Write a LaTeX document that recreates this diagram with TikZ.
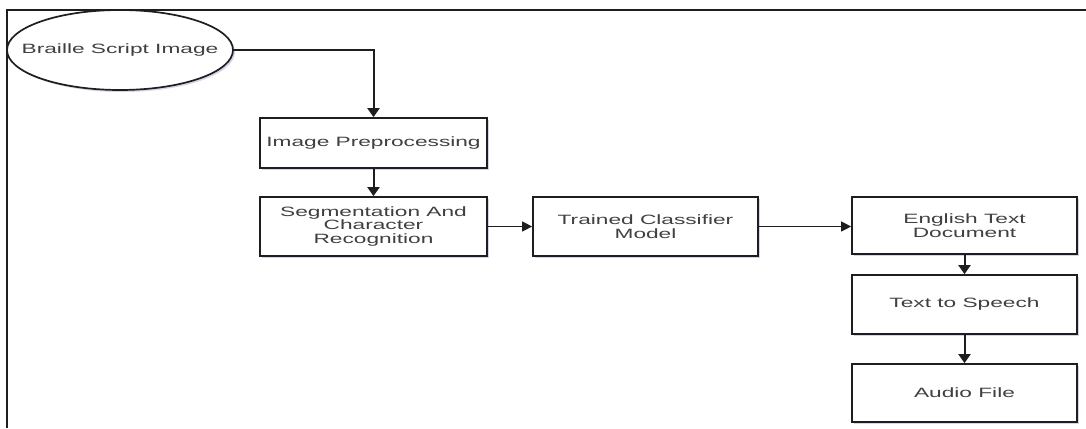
\documentclass[tikz,border=0pt]{standalone}
\usepackage{fontspec}
\setmainfont{Liberation Sans}
\newfontfamily\widefont[FakeStretch=1.68]{Liberation Sans}
\usetikzlibrary{shapes.geometric,arrows.meta,shadows}
\definecolor{txt}{HTML}{404040}
\definecolor{ln}{HTML}{1E1E1E}
\tikzset{
  blk/.style={draw=ln, line width=1.7pt, fill=white, rectangle, inner sep=0pt,
    minimum width=226pt, align=center, text=txt,
    font=\widefont\fontsize{13.5}{13.5}\selectfont,
    drop shadow={shadow xshift=2pt, shadow yshift=-2pt, opacity=0.25, fill=gray!70!blue}},
  ell/.style={blk, ellipse, minimum width=226pt, minimum height=80pt},
  vcon/.style={draw=ln, line width=2pt, -{Triangle[width=12pt,length=9pt]}},
  hcon/.style={draw=ln, line width=1.2pt, -{Triangle[width=10pt,length=10pt]}},
}
\begin{document}
\begin{tikzpicture}[x=1pt,y=-1pt]
\useasboundingbox (0,0) rectangle (1086,428);
\draw[ln, line width=2pt] (7,428) -- (7,10) -- (1086,10);
\node[ell] (img) at (120,50) {\makebox[0pt]{Braille Script Image}};
\node[blk, minimum width=227pt, minimum height=50pt] (pre) at (373.5,143) {Image Preprocessing};
\node[blk, minimum width=227pt, minimum height=59pt] (seg) at (373.5,226.5) {Segmentation And\\Character\\Recognition};
\node[blk, minimum width=225pt, minimum height=59pt] (cls) at (645.5,226.5) {Trained Classifier\\Model};
\node[blk, minimum width=225pt, minimum height=57pt] (eng) at (964.5,225.5) {English Text\\Document};
\node[blk, minimum width=225pt, minimum height=59pt] (tts) at (964.5,304.5) {Text to Speech};
\node[blk, minimum width=225pt, minimum height=58pt] (aud) at (964.5,393) {Audio File};
\draw[vcon] (img.east) -| (pre.north);
\draw[vcon] (pre.south) -- (seg.north);
\draw[hcon] (seg.east) -- (cls.west);
\draw[hcon] (cls.east) -- (cls.east -| eng.west);
\draw[vcon] (eng.south) -- (tts.north);
\draw[vcon] (tts.south) -- (aud.north);
\end{tikzpicture}
\end{document}
